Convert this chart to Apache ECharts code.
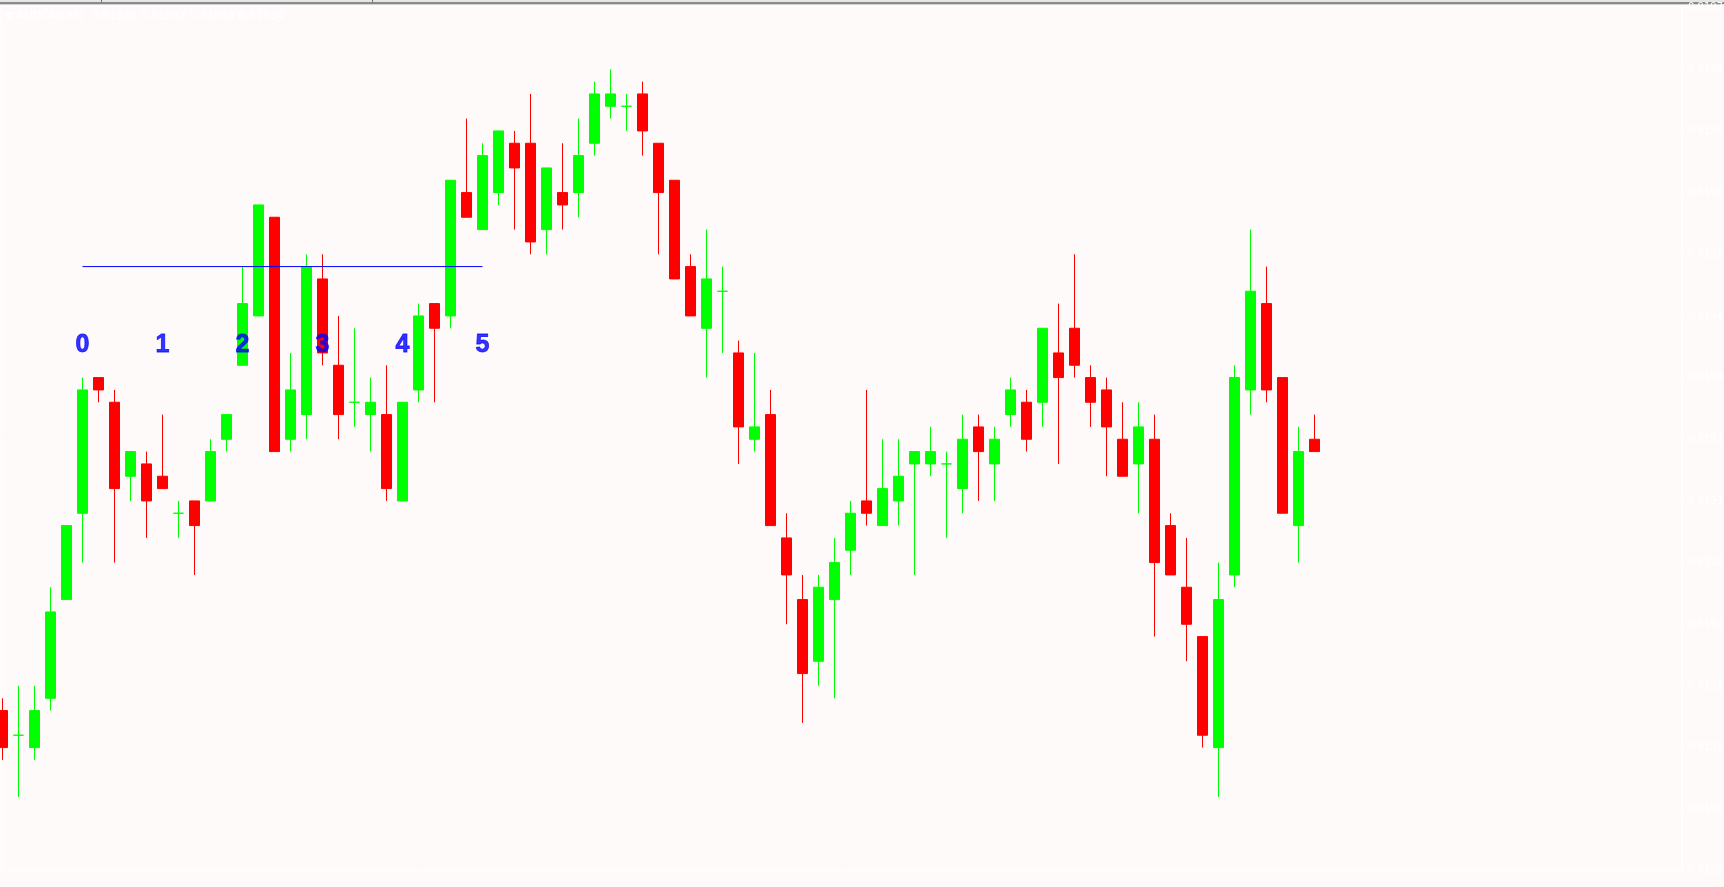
<!DOCTYPE html>
<html>
<head>
<meta charset="utf-8">
<script src="https://cdn.jsdelivr.net/npm/echarts@6/dist/echarts.min.js"></script>
<style>
html,body{margin:0;padding:0;background:#FFFAFA;}
#c{width:1724px;height:887px;}
</style>
</head>
<body>
<div id="c"></div>
<script>
// ---- data ----
const symbolTitle = 'AUDCAD,M1';
const lastBarText = ['0.91935', '0.91937', '0.91934', '0.91934'];

const openP = [
  0.91913,0.91911,0.91910,0.91914,0.91922,0.91929,0.91940,0.91938,0.91932,0.91933,
  0.91932,0.91929,0.91930,0.91930,0.91935,0.91941,0.91945,0.91953,0.91935,0.91937,
  0.91948,0.91941,0.91938,0.91937,0.91937,0.91930,0.91939,0.91946,0.91945,0.91955,
  0.91952,0.91955,0.91959,0.91959,0.91952,0.91955,0.91955,0.91959,0.91962,0.91962,
  0.91963,0.91959,0.91956,0.91949,0.91944,0.91947,0.91942,0.91935,0.91937,0.91927,
  0.91922,0.91917,0.91922,0.91926,0.91930,0.91928,0.91930,0.91933,0.91933,0.91933,
  0.91931,0.91936,0.91933,0.91937,0.91938,0.91938,0.91942,0.91944,0.91940,0.91939,
  0.91935,0.91933,0.91935,0.91928,0.91923,0.91919,0.91910,0.91924,0.91939,0.91946,
  0.91940,0.91928,0.91935
];
const closeP = [
  0.91910,0.91911,0.91913,0.91921,0.91928,0.91939,0.91939,0.91931,0.91934,0.91930,
  0.91931,0.91929,0.91928,0.91934,0.91937,0.91946,0.91954,0.91934,0.91939,0.91949,
  0.91942,0.91937,0.91938,0.91938,0.91931,0.91938,0.91945,0.91944,0.91956,0.91953,
  0.91958,0.91960,0.91957,0.91951,0.91957,0.91954,0.91958,0.91963,0.91963,0.91962,
  0.91960,0.91955,0.91948,0.91945,0.91948,0.91947,0.91936,0.91936,0.91928,0.91924,
  0.91916,0.91923,0.91925,0.91929,0.91929,0.91931,0.91932,0.91934,0.91934,0.91933,
  0.91935,0.91934,0.91935,0.91939,0.91935,0.91944,0.91940,0.91941,0.91938,0.91936,
  0.91932,0.91936,0.91925,0.91924,0.91920,0.91911,0.91922,0.91940,0.91947,0.91939,
  0.91929,0.91934,0.91934
];
const lowP = [
  0.91909,0.91906,0.91909,0.91913,0.91922,0.91925,0.91938,0.91925,0.91930,0.91927,
  0.91931,0.91927,0.91924,0.91930,0.91934,0.91941,0.91945,0.91934,0.91934,0.91935,
  0.91941,0.91935,0.91936,0.91934,0.91930,0.91930,0.91938,0.91938,0.91944,0.91953,
  0.91952,0.91954,0.91952,0.91950,0.91950,0.91952,0.91953,0.91958,0.91961,0.91960,
  0.91958,0.91950,0.91948,0.91945,0.91940,0.91942,0.91933,0.91934,0.91928,0.91920,
  0.91912,0.91915,0.91914,0.91924,0.91928,0.91928,0.91928,0.91924,0.91932,0.91927,
  0.91929,0.91930,0.91930,0.91936,0.91934,0.91936,0.91933,0.91940,0.91936,0.91932,
  0.91932,0.91929,0.91919,0.91924,0.91917,0.91910,0.91906,0.91923,0.91937,0.91938,
  0.91929,0.91925,0.91934
];
const highP = [
  0.91914,0.91915,0.91915,0.91923,0.91928,0.91940,0.91940,0.91939,0.91934,0.91934,
  0.91937,0.91930,0.91930,0.91935,0.91937,0.91949,0.91954,0.91953,0.91942,0.91950,
  0.91950,0.91945,0.91944,0.91940,0.91941,0.91938,0.91946,0.91946,0.91956,0.91961,
  0.91959,0.91960,0.91960,0.91963,0.91957,0.91959,0.91961,0.91964,0.91965,0.91963,
  0.91964,0.91959,0.91956,0.91950,0.91952,0.91949,0.91943,0.91942,0.91939,0.91929,
  0.91924,0.91924,0.91927,0.91930,0.91939,0.91935,0.91935,0.91934,0.91936,0.91934,
  0.91937,0.91937,0.91936,0.91940,0.91939,0.91944,0.91946,0.91950,0.91941,0.91940,
  0.91938,0.91938,0.91937,0.91929,0.91927,0.91919,0.91925,0.91941,0.91952,0.91949,
  0.91940,0.91936,0.91937
];

const waveLabels = ['0', '1', '2', '3', '4', '5'];
const waveLabelBars = [5, 10, 15, 20, 25, 30];
const waveLabelPrice = 0.919426;
const levelBars = [5, 30];
const levelPrice = 0.91949;

const axisMin = 0.91900;
const axisMax = 0.91970;
const axisStep = 0.00005;

// ---- build options ----
const barIndex = openP.map((_, i) => i);
const candles = openP.map((o, i) => [barIndex[i], o, closeP[i], lowP[i], highP[i]]);
const labelPoints = waveLabelBars.map(b => [b, waveLabelPrice]);
const levelPoints = levelBars.map(b => [b, levelPrice]);

// layout: 16px per bar, first bar centred at x = 2.5
const plotW = 1682, slotW = 16, firstCenter = 2.5;
const xMin = -firstCenter / slotW;
const xMax = xMin + plotW / slotW;
const plotTop = 7.6, plotH = 863.3;

const chart = echarts.init(document.getElementById('c'), null, {renderer: 'canvas'});

chart.setOption({
  animation: false,
  backgroundColor: '#FFFAFA',
  grid: [
    {left: 0, top: plotTop, width: plotW, height: plotH, containLabel: false, outerBoundsMode: 'none'}
  ],
  xAxis: [
    {type: 'value', gridIndex: 0, min: xMin, max: xMax, show: false, splitLine: {show: false}}
  ],
  yAxis: [
    {type: 'value', gridIndex: 0, position: 'right', min: axisMin, max: axisMax, interval: axisStep,
     axisLine: {show: true, onZero: false, lineStyle: {color: '#FFFFFF', width: 1}},
     axisTick: {show: true, length: 3, lineStyle: {color: '#FFFFFF'}},
     splitLine: {show: false},
     axisLabel: {show: true, color: '#FFFFFF', fontSize: 10, margin: 6, fontFamily: 'DejaVu Sans',
                 formatter: v => v.toFixed(5)}}
  ],
  graphic: [
    {type: 'rect', shape: {x: 0, y: 0, width: 1724, height: 2}, style: {fill: '#E6E6E6'}, silent: true},
    {type: 'rect', shape: {x: 0, y: 2, width: 1724, height: 2}, style: {fill: '#8A8A8A'}, silent: true},
    {type: 'rect', shape: {x: 0, y: 4, width: 1724, height: 1}, style: {fill: '#D4D4D4'}, silent: true},
    {type: 'rect', shape: {x: 101, y: 0, width: 1, height: 2}, style: {fill: '#707070'}, silent: true},
    {type: 'rect', shape: {x: 372, y: 0, width: 1, height: 2}, style: {fill: '#707070'}, silent: true},
    {type: 'rect', shape: {x: 1.5, y: 6.5, width: 1680.5, height: 864}, style: {fill: null, stroke: '#FFFFFF', lineWidth: 1}, silent: true},
    {type: 'text', left: 5, top: 11, style: {text: '\u25BC ' + symbolTitle + '  ' + lastBarText.join(' '),
      fill: '#FFFFFF', font: '11px "DejaVu Sans"'}, silent: true}
  ],
  series: [
    {
      type: 'candlestick', xAxisIndex: 0, yAxisIndex: 0,
      data: candles, encode: {x: 0, y: [1, 2, 3, 4]},
      barWidth: 10, z: 2,
      itemStyle: {
        color: '#00FF00', color0: '#FF0000',
        borderColor: '#00FF00', borderColor0: '#FF0000', borderColorDoji: '#00FF00',
        borderWidth: 1
      }
    },
    {
      type: 'line', xAxisIndex: 0, yAxisIndex: 0, data: levelPoints, z: 3,
      symbol: 'none', lineStyle: {color: '#0000FF', width: 1}, silent: true
    },
    {
      type: 'scatter', xAxisIndex: 0, yAxisIndex: 0, data: labelPoints, z: 4,
      symbolSize: 0, silent: true,
      label: {show: true, position: 'inside', formatter: p => waveLabels[p.dataIndex],
              color: '#0000FF', fontSize: 25, fontWeight: 'bold',
              textBorderColor: '#0000FF', textBorderWidth: 0.8,
              fontFamily: '"Liberation Sans", Arial, sans-serif'}
    }
  ]
});
</script>
</body>
</html>
